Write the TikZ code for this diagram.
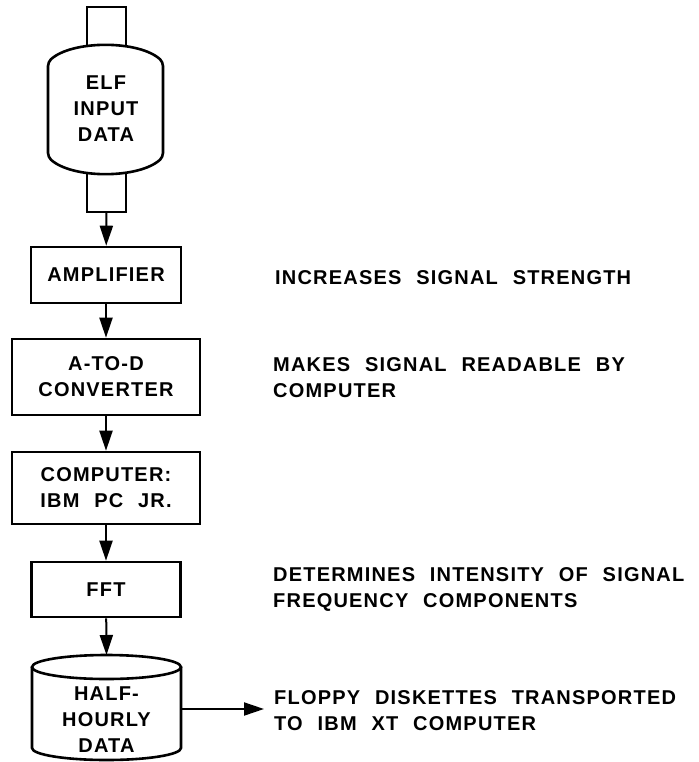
\documentclass[tikz,border=0pt]{standalone}
\usepackage{fontspec}
\setmainfont{Liberation Sans}[LetterSpace=6,WordSpace={2.2,1,1}]
\usetikzlibrary{arrows.meta,positioning}

\begin{document}
\begin{tikzpicture}[x=1pt,y=-1pt,
  box/.style={draw,line width=2.6pt,inner sep=0pt,align=center},
  note/.style={anchor=west,align=left,inner sep=0pt},
  flow/.style={line width=2pt,-{Triangle[length=20pt,width=13pt]}},
  every node/.style={font=\fontsize{20}{26}\bfseries\selectfont}]
\useasboundingbox (0,0) rectangle (698,762);
% input tube and body
\draw[line width=2.6pt,fill=white] (87,50) -- (87,7) -- (126,7) -- (126,50);
\draw[line width=2.6pt,fill=white] (87,165) -- (87,212) -- (126,212) -- (126,165);
\coordinate (elfout) at (106.5,212);
\draw[line width=2.6pt,fill=white,rounded corners=4pt] (48,62) .. controls (72,40) and (139,40) .. (163,62)
  -- (163,157) .. controls (139,179) and (72,179) .. (48,157) -- cycle;
\node[align=center,inner sep=0pt] (elf) at (106,109) {ELF\\INPUT\\DATA};
% blocks
\node[box,minimum width=150pt,minimum height=56pt] (amp) at (106,275) {AMPLIFIER};
\node[box,minimum width=188pt,minimum height=76pt] (adc) at (106,377) {A-TO-D\\CONVERTER};
\node[box,minimum width=188pt,minimum height=72pt] (comp) at (106,488) {COMPUTER:\\IBM\ PC\ JR.};
\node[box,minimum width=149pt,minimum height=55pt] (fft) at (106,589.5) {FFT};
% disk
\draw[line width=2.6pt] (32,667) -- (32,748) arc[start angle=180,end angle=360,x radius=74.5pt,y radius=12pt]
  -- (181,667);
\draw[line width=2.6pt] (106.5,667) ellipse[x radius=74.5pt,y radius=12pt];
\node[align=center,inner sep=0pt] (disk) at (106.5,720) {HALF-\\HOURLY\\DATA};
\coordinate (disktop) at (106.5,655);
\coordinate (diskright) at (181,709);
\coordinate (ship) at (264,709);
% connectors
\draw[flow] (elfout) -- (amp);
\draw[flow] (amp) -- (adc);
\draw[flow] (adc) -- (comp);
\draw[flow] (comp) -- (fft);
\draw[flow] (fft) -- (disktop);
\draw[flow] (diskright) -- (ship);
% notes
\node[note] (n1) at (275,278) {INCREASES SIGNAL STRENGTH};
\node[note] (n2) at (273,378) {MAKES SIGNAL READABLE BY\\COMPUTER};
\node[note] (n3) at (273,589) {DETERMINES INTENSITY OF SIGNAL\\FREQUENCY COMPONENTS};
\node[note] (n4) at (274,711) {FLOPPY DISKETTES TRANSPORTED\\TO IBM XT COMPUTER};
\end{tikzpicture}
\end{document}
